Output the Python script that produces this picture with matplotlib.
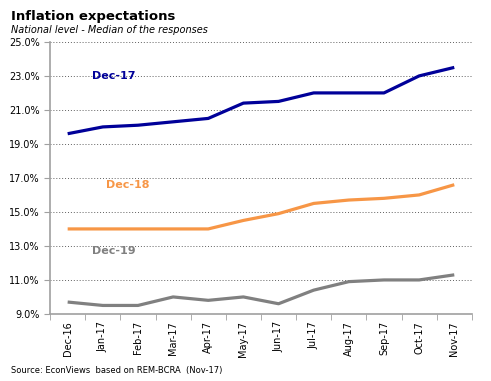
import matplotlib.pyplot as plt
import numpy as np
from matplotlib.ticker import FuncFormatter, FixedLocator

months = ['Dec-16', 'Jan-17', 'Feb-17', 'Mar-17', 'Apr-17', 'May-17',
          'Jun-17', 'Jul-17', 'Aug-17', 'Sep-17', 'Oct-17', 'Nov-17']
dec17 = [19.6, 20.0, 20.1, 20.3, 20.5, 21.4, 21.5, 22.0, 22.0, 22.0, 23.0, 23.5]
dec18 = [14.0, 14.0, 14.0, 14.0, 14.0, 14.5, 14.9, 15.5, 15.7, 15.8, 16.0, 16.6]
dec19 = [9.7, 9.5, 9.5, 10.0, 9.8, 10.0, 9.6, 10.4, 10.9, 11.0, 11.0, 11.3]

fig = plt.figure(figsize=(4.91, 3.81), dpi=100)
ax = fig.add_axes([0.102, 0.176, 0.859, 0.714])

x = np.arange(len(months))
ax.plot(x, dec17, color='#000099', lw=2.3, solid_capstyle='butt')
ax.plot(x, dec18, color='#F79646', lw=2.3, solid_capstyle='butt')
ax.plot(x, dec19, color='#808080', lw=2.3, solid_capstyle='butt')

ax.text(1.3, 23.0, 'Dec-17', color='#000099', fontsize=8, fontweight='bold', ha='center', va='center')
ax.text(1.7, 16.6, 'Dec-18', color='#F79646', fontsize=8, fontweight='bold', ha='center', va='center')
ax.text(1.3, 12.7, 'Dec-19', color='#808080', fontsize=8, fontweight='bold', ha='center', va='center')

ax.set_xlim(-0.5, len(months) - 0.5)
ax.set_ylim(9, 25)
ax.set_yticks(np.arange(9, 26, 2))
ax.yaxis.set_major_formatter(FuncFormatter(lambda v, p: f'{v:.1f}%'))
ax.set_xticks(x)
ax.set_xticklabels(months, rotation=90, fontsize=7)
ax.xaxis.set_minor_locator(FixedLocator(np.arange(-0.5, len(months), 1)))
ax.tick_params(axis='x', which='major', length=0, pad=5)
ax.tick_params(axis='x', which='minor', length=4, color='#A0A0A0')
ax.tick_params(axis='y', labelsize=7, length=4, color='#A0A0A0')

ax.grid(axis='y', linestyle=(0, (1, 2)), color='#606060', lw=0.7)
ax.set_axisbelow(True)
for s in ['top', 'right']:
    ax.spines[s].set_visible(False)
for s in ['left', 'bottom']:
    ax.spines[s].set_color('#A0A0A0')
    ax.spines[s].set_linewidth(1.2)

fig.text(0.022, 0.958, 'Inflation expectations', fontsize=9.5, fontweight='bold', va='center')
fig.text(0.022, 0.922, 'National level - Median of the responses', fontsize=7, style='italic', va='center')
fig.text(0.022, 0.028, 'Source: EconViews  based on REM-BCRA  (Nov-17)', fontsize=6, va='center')

fig.savefig('out.png', dpi=100)
